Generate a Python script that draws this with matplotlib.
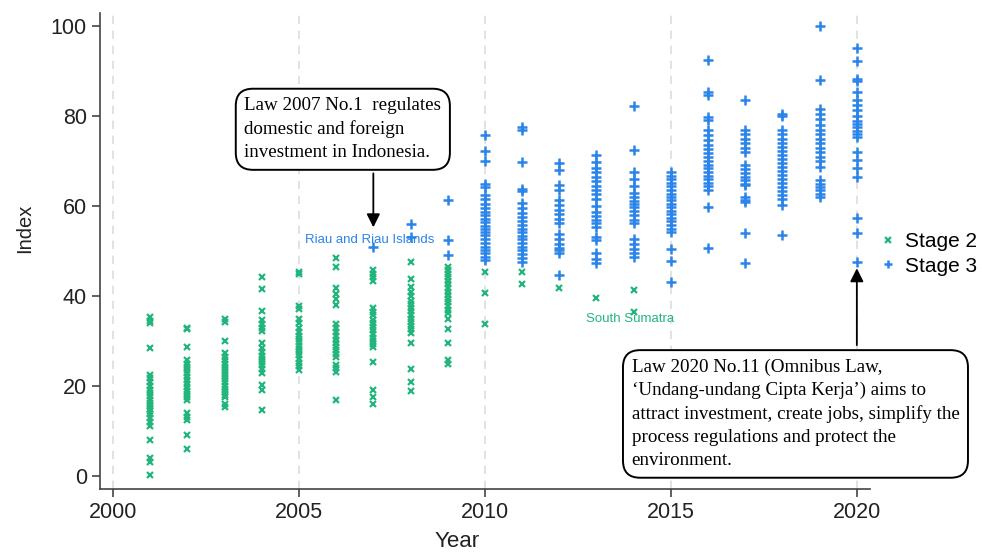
import matplotlib.pyplot as plt
import numpy as np

# Stage 2 index values by year
s2_2001 = [35.3, 34.5, 34.0, 28.5, 22.5, 21.8, 21.0, 20.0, 19.2, 18.5, 17.8, 17.0,
           16.3, 15.5, 15.0, 14.5, 13.8, 13.0, 12.0, 11.2, 8.0, 4.0, 3.2, 0.2]
s2_2002 = [33.0, 32.6, 28.6, 25.8, 25.0, 24.3, 23.5, 22.8, 22.0, 21.3, 20.5, 19.8,
           19.0, 18.3, 17.5, 16.8, 14.0, 13.2, 12.4, 9.1, 6.1]
s2_2003 = [34.9, 34.3, 30.0, 27.3, 26.5, 25.8, 25.0, 24.3, 23.6, 22.9, 22.2, 21.5,
           20.8, 20.1, 19.4, 18.7, 18.0, 17.6, 16.1, 15.4]
s2_2004 = [44.3, 41.5, 36.7, 34.8, 33.8, 33.0, 32.2, 29.5, 28.5, 27.5, 26.7, 26.0,
           25.3, 24.6, 23.8, 23.0, 20.3, 19.2, 14.7]
s2_2005 = [45.4, 45.0, 37.8, 37.2, 35.0, 34.0, 33.0, 32.0, 31.2, 30.5, 29.8, 29.0,
           28.3, 27.5, 26.8, 26.0, 25.2, 24.5, 23.6]
s2_2006 = [48.4, 46.5, 41.7, 40.5, 39.3, 38.0, 33.9, 33.0, 32.0, 31.2, 30.3, 29.5,
           28.7, 28.0, 27.2, 26.5, 24.7, 24.0, 23.2, 17.0]
s2_2007 = [45.8, 45.0, 44.2, 43.3, 37.3, 36.5, 35.7, 34.8, 34.0, 33.2, 32.4, 31.6,
           30.8, 30.0, 29.3, 28.7, 25.3, 19.1, 17.6, 16.0]
s2_2008 = [47.6, 43.9, 42.0, 41.0, 40.0, 39.0, 38.2, 37.4, 36.6, 35.8, 35.0, 34.2,
           33.4, 32.6, 31.7, 29.5, 23.9, 21.0, 19.0]
s2_2009 = [46.5, 45.8, 45.0, 44.2, 43.4, 42.6, 41.8, 41.0, 40.2, 39.4, 38.6, 37.8,
           37.0, 36.2, 35.0, 32.8, 29.5, 25.8, 25.0]
s2_2010 = [45.3, 40.6, 33.7]
s2_2011 = [45.3, 42.8]
s2_2012 = [41.9]
s2_2013 = [39.5]
s2_2014 = [41.3, 36.5]

# Stage 3 index values by year
s3_2007 = [51.0]
s3_2008 = [56.0, 53.2]
s3_2009 = [61.3, 52.4, 49.1]
s3_2010 = [75.8, 72.2, 70.0, 65.0, 64.3, 62.4, 61.5, 60.5, 59.6, 58.8, 58.0, 57.2,
           56.4, 55.6, 55.0, 54.3, 53.5, 52.7, 51.9, 51.0, 50.3, 49.5, 48.8, 48.0]
s3_2011 = [77.5, 77.0, 69.9, 63.9, 63.3, 60.6, 59.5, 58.5, 57.5, 56.6, 55.8, 55.0,
           54.2, 53.4, 52.6, 51.8, 51.0, 50.2, 49.4, 48.5, 47.6]
s3_2012 = [69.5, 68.0, 64.7, 63.6, 61.3, 60.2, 59.2, 58.2, 57.2, 56.2, 53.9, 52.6,
           51.5, 50.8, 50.2, 49.5, 44.7]
s3_2013 = [71.3, 69.8, 68.5, 67.5, 66.5, 65.5, 64.5, 63.6, 62.8, 61.5, 60.0, 58.7,
           57.8, 57.0, 56.2, 55.4, 53.2, 52.4, 49.5, 48.3, 47.3]
s3_2014 = [82.3, 72.4, 67.6, 66.0, 64.5, 63.0, 62.0, 61.2, 60.5, 59.8, 59.0, 58.0,
           57.0, 56.2, 52.8, 51.6, 50.5, 49.6, 48.7]
s3_2015 = [67.6, 66.8, 66.0, 65.2, 64.4, 63.6, 62.8, 62.0, 61.3, 60.5, 59.8, 59.0,
           58.2, 57.4, 56.6, 55.8, 55.0, 54.3, 50.4, 47.9, 43.2]
s3_2016 = [92.4, 85.4, 84.7, 79.8, 79.1, 76.9, 75.8, 74.7, 73.7, 72.7, 71.8, 70.9,
           70.0, 69.2, 68.4, 67.6, 66.8, 66.0, 65.2, 64.4, 63.6, 59.8, 50.6]
s3_2017 = [83.7, 76.9, 76.0, 75.0, 74.0, 73.0, 72.1, 69.1, 68.2, 67.4, 66.6, 65.8,
           65.0, 64.7, 62.1, 61.3, 61.0, 54.1, 47.3]
s3_2018 = [80.4, 80.0, 76.9, 76.0, 75.0, 74.1, 73.2, 72.3, 71.4, 70.5, 69.6, 68.7,
           67.8, 66.9, 66.0, 65.1, 64.2, 63.3, 62.4, 61.5, 60.2, 53.7]
s3_2019 = [100.0, 88.0, 81.7, 80.5, 79.3, 78.0, 77.0, 76.0, 75.0, 74.0, 73.0, 72.0,
           71.0, 70.0, 68.7, 65.8, 65.0, 64.3, 63.6, 62.8, 62.1]
s3_2020 = [95.2, 92.3, 88.2, 87.8, 85.4, 83.6, 82.5, 81.3, 80.0, 79.0, 78.2, 77.5,
           76.8, 76.0, 75.4, 72.1, 70.3, 68.5, 66.4, 57.4, 54.1, 47.6]

stage2 = [(2001, s2_2001), (2002, s2_2002), (2003, s2_2003), (2004, s2_2004),
          (2005, s2_2005), (2006, s2_2006), (2007, s2_2007), (2008, s2_2008),
          (2009, s2_2009), (2010, s2_2010), (2011, s2_2011), (2012, s2_2012),
          (2013, s2_2013), (2014, s2_2014)]
stage3 = [(2007, s3_2007), (2008, s3_2008), (2009, s3_2009), (2010, s3_2010),
          (2011, s3_2011), (2012, s3_2012), (2013, s3_2013), (2014, s3_2014),
          (2015, s3_2015), (2016, s3_2016), (2017, s3_2017), (2018, s3_2018),
          (2019, s3_2019), (2020, s3_2020)]

green = '#22b67c'
blue = '#2b84e8'
axis_col = '#444444'

plt.rcParams['font.family'] = ['Liberation Sans', 'DejaVu Sans']

fig = plt.figure(figsize=(9.82, 5.52), dpi=100)
ax = fig.add_axes([0.1018, 0.114, 0.784, 0.862])

for yr in range(2000, 2021, 5):
    ax.axvline(yr, color='#dddddd', lw=1.2, ls=(0, (5, 4)), zorder=0)

x2 = np.concatenate([[yr] * len(v) for yr, v in stage2])
y2 = np.concatenate([v for yr, v in stage2])
x3 = np.concatenate([[yr] * len(v) for yr, v in stage3])
y3 = np.concatenate([v for yr, v in stage3])

ax.plot(x2, y2, 'x', color=green, ms=5, mew=1.6, ls='none', label='Stage 2')
ax.plot(x3, y3, '+', color=blue, ms=7, mew=1.8, ls='none', label='Stage 3')

ax.set_xlim(1999.65, 2020.35)
ax.set_ylim(-2.9, 102.9)
ax.set_xticks([2000, 2005, 2010, 2015, 2020])
ax.set_yticks([0, 20, 40, 60, 80, 100])
ax.tick_params(axis='both', labelsize=15.5, length=6, width=1.2, color=axis_col,
               labelcolor='#222222', direction='out')
for s in ['top', 'right']:
    ax.spines[s].set_visible(False)
for s in ['left', 'bottom']:
    ax.spines[s].set_color(axis_col)
    ax.spines[s].set_linewidth(1.2)

ax.set_xlabel('Year', fontsize=16, color='#222222')
ax.set_ylabel('Index', fontsize=14.5, color='#222222')
ax.xaxis.set_label_coords(0.464, -0.088)
ax.yaxis.set_label_coords(-0.086, 0.548)

# Province labels
ax.text(2006.9, 52.4, 'Riau and Riau Islands', color=blue, fontsize=9.5,
        ha='center', va='center')
ax.text(2013.9, 34.9, 'South Sumatra', color=green, fontsize=9.5,
        ha='center', va='center')

# Law callouts
box = dict(boxstyle='round,pad=0.45,rounding_size=0.9', fc='white', ec='black', lw=1.4)
ax.text(2006.18, 77.1, 'Law 2007 No.1  regulates\ndomestic and foreign\ninvestment in Indonesia.',
        family='Liberation Serif', fontsize=13.7, ha='center', va='center',
        multialignment='left', linespacing=1.45, bbox=box, zorder=5)
ax.annotate('', xy=(2007, 55.3), xytext=(2007, 67.3),
            arrowprops=dict(arrowstyle='-|>', color='black', lw=1.3, mutation_scale=20,
                            shrinkA=0, shrinkB=0))

ax.text(2018.35, 13.8, 'Law 2020 No.11 (Omnibus Law,\n\u2018Undang-undang Cipta Kerja\u2019) aims to\n'
        'attract investment, create jobs, simplify the\nprocess regulations and protect the\nenvironment.',
        family='Liberation Serif', fontsize=13.7, ha='center', va='center',
        multialignment='left', linespacing=1.45, bbox=box, zorder=5, clip_on=False)
ax.annotate('', xy=(2020, 46.2), xytext=(2020, 29.1),
            arrowprops=dict(arrowstyle='-|>', color='black', lw=1.3, mutation_scale=20,
                            shrinkA=0, shrinkB=0))

ax.legend(loc='center left', bbox_to_anchor=(1.002, 0.494), frameon=False, fontsize=15,
          handlelength=0.8, handletextpad=0.4, labelspacing=0.25, borderaxespad=0,
          markerscale=0.9)

fig.savefig('out.png', dpi=100)
